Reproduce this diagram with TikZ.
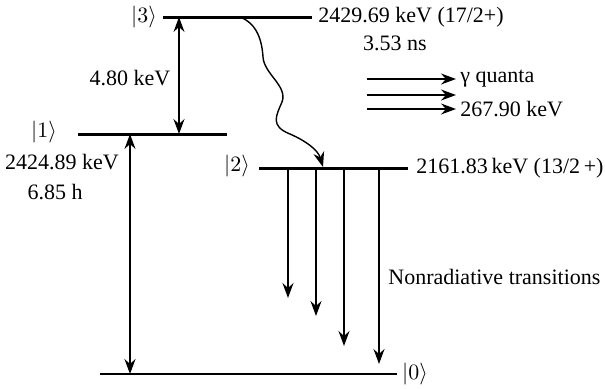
\documentclass[tikz,border=0pt]{standalone}
\usepackage{fontspec}
\setmainfont{Liberation Serif}
\usetikzlibrary{arrows.meta, positioning, calc}
\tikzset{
  % energy level line
  Lvl/.style={line width=1.5pt,line cap=butt},
  % transition arrows
  Arr/.style ={-{Stealth[length=7.5pt,width=5.5pt,inset=2.5pt]},line width=0.7pt},
  DArr/.style={{Stealth[length=7.5pt,width=5.5pt,inset=2.5pt]}-{Stealth[length=7.5pt,width=5.5pt,inset=2.5pt]},line width=0.7pt},
  % text labels
  Lbl/.style={inner sep=0pt,font=\fontsize{11}{13}\selectfont},
}
\begin{document}
\begin{tikzpicture}[x=0.5pt,y=-0.5pt]
  \useasboundingbox (0,0) rectangle (605,388);
  % levels
  \coordinate (l3a) at (163,17);  \coordinate (l3b) at (312,17);
  \coordinate (l1a) at (78,134);  \coordinate (l1b) at (227,134);
  \coordinate (l2a) at (259,168); \coordinate (l2b) at (408,168);
  \coordinate (l0a) at (100,374); \coordinate (l0b) at (397,374);
  \draw[Lvl] (l3a) -- (l3b);
  \draw[Lvl] (l1a) -- (l1b);
  \draw[Lvl] (l2a) -- (l2b);
  \draw[Lvl,line width=1pt] (l0a) -- (l0b);
  % level labels
  \node[Lbl] (k3) at (144,17) {$|3\rangle$};
  \node[Lbl] (k1) at (44,132) {$|1\rangle$};
  \node[Lbl] (k2) at (237,166) {$|2\rangle$};
  \node[Lbl] (k0) at (415,374) {$|0\rangle$};
  \node[Lbl,anchor=west] (e3) at (318,17) {2429.69 keV (17/2+)};
  \node[Lbl] (t3) at (395,43) {3.53 ns};
  \node[Lbl] (e1) at (62,162) {2424.89 keV};
  \node[Lbl] (t1) at (55,192) {6.85 h};
  \node[Lbl,anchor=west] (e2) at (416,168) {2161.83\,keV (13/2\,+)};
  \node[Lbl] (d31) at (130,78) {4.80 keV};
  % 3 <-> 1 and 1 <-> 0
  \coordinate (a3) at (179,17);  \coordinate (a1) at (179,134);
  \coordinate (b1) at (130,134); \coordinate (b0) at (130,374);
  \draw[DArr] (a3) -- (a1);
  \draw[DArr] (b1) -- (b0);
  % wavy decay 3 -> 2
  \coordinate (w3) at (240,17); \coordinate (w2) at (323,167);
  \draw[Arr] (w3) .. controls (258,24) and (262,42) .. (263,57)
                  .. controls (264,74) and (288,86) .. (282,102)
                  .. controls (276,116) and (270,126) .. (290,134)
                  .. controls (306,141) and (318,150) .. (w2);
  % gamma quanta
  \foreach \yy in {79,95,109}
    \draw[Arr] (367,\yy) coordinate (g\yy) -- (456,\yy);
  \node[Lbl,anchor=west] (gq) at (460,79) {γ quanta};
  \node[Lbl,anchor=west] (ge) at (460,109) {267.90 keV};
  % nonradiative transitions 2 -> 0
  \foreach \xx/\ye in {288/298,316/316,344/346,379/364}
    \draw[Arr] (\xx,168) coordinate (n\xx) -- (\xx,\ye);
  \node[Lbl,anchor=west] (nr) at (388,277) {Nonradiative transitions};
\end{tikzpicture}
\end{document}
